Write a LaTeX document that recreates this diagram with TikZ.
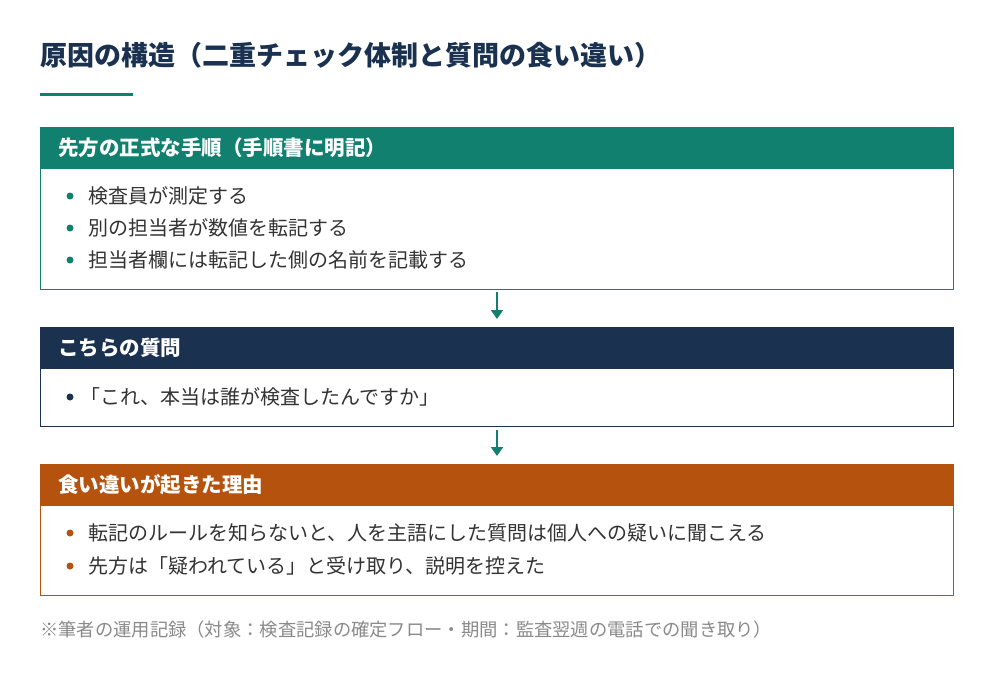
\documentclass[tikz,border=0pt]{standalone}
\usepackage{fontspec}
\usetikzlibrary{arrows.meta}
\setmainfont{Noto Sans CJK JP}
\definecolor{teal}{HTML}{12806F}
\definecolor{navy}{HTML}{1A3250}
\definecolor{orng}{HTML}{B5520E}
\definecolor{txt}{HTML}{333333}
\definecolor{gry}{HTML}{8A8A8A}
\begin{document}
\begin{tikzpicture}[x=1pt,y=-1pt,
  hdr/.style={anchor=west,text=white,inner xsep=0pt,font=\fontsize{20.5}{24}\selectfont\bfseries},
  item/.style={anchor=west,text=txt,inner xsep=0pt,font=\fontsize{20}{24}\selectfont},
  arr/.style={-{Triangle[length=9pt,width=12pt]},line width=2pt,color=teal}]
\useasboundingbox (0,0) rectangle (1000,688);
\fill[white] (0,0) rectangle (1000,688);
\node[anchor=west,inner xsep=0pt,text=navy,font=\fontsize{27}{32}\selectfont\bfseries] (title) at (40,55) {原因の構造（二重チェック体制と質問の食い違い）};
\fill[teal] (40,92.5) rectangle (133,96);
% box1
\fill[teal] (40,127) rectangle (954,169);
\draw[teal,line width=1pt] (40.5,127) rectangle (953.5,289) coordinate (b1);
\node[hdr] (h1) at (58,148) {先方の正式な手順（手順書に明記）};
\foreach \y/\t in {196/検査員が測定する,228/別の担当者が数値を転記する,260/担当者欄には転記した側の名前を記載する}{
  \fill[teal] (70,\y) circle (3.5);
  \node[item] at (88,\y) {\t};}
% box2
\fill[navy] (40,327) rectangle (954,369);
\draw[navy,line width=1pt] (40.5,327) rectangle (953.5,426);
\node[hdr] (h2) at (58,348) {こちらの質問};
\fill[navy] (70,397) circle (3.5);
\node[item] (q) at (80,397) {「これ、本当は誰が検査したんですか」};
% box3
\fill[orng] (40,464) rectangle (954,506);
\draw[orng,line width=1pt] (40.5,464) rectangle (953.5,595);
\node[hdr] (h3) at (58,485) {食い違いが起きた理由};
\fill[orng] (70,533) circle (3.5);
\node[item] at (88,533) {転記のルールを知らないと、人を主語にした質問は個人への疑いに聞こえる};
\fill[orng] (70,566) circle (3.5);
\node[item] at (88,566) {先方は「疑われている」と受け取り、説明を控えた};
% arrows
\coordinate (a1) at (497,292); \coordinate (a2) at (497,319);
\coordinate (a3) at (497,430); \coordinate (a4) at (497,456);
\draw[arr] (a1) -- (a2);
\draw[arr] (a3) -- (a4);
\node[anchor=west,inner xsep=0pt,text=gry,font=\fontsize{18.3}{22}\selectfont] (foot) at (40,630) {※筆者の運用記録（対象：検査記録の確定フロー・期間：監査翌週の電話での聞き取り）};
\end{tikzpicture}
\end{document}
